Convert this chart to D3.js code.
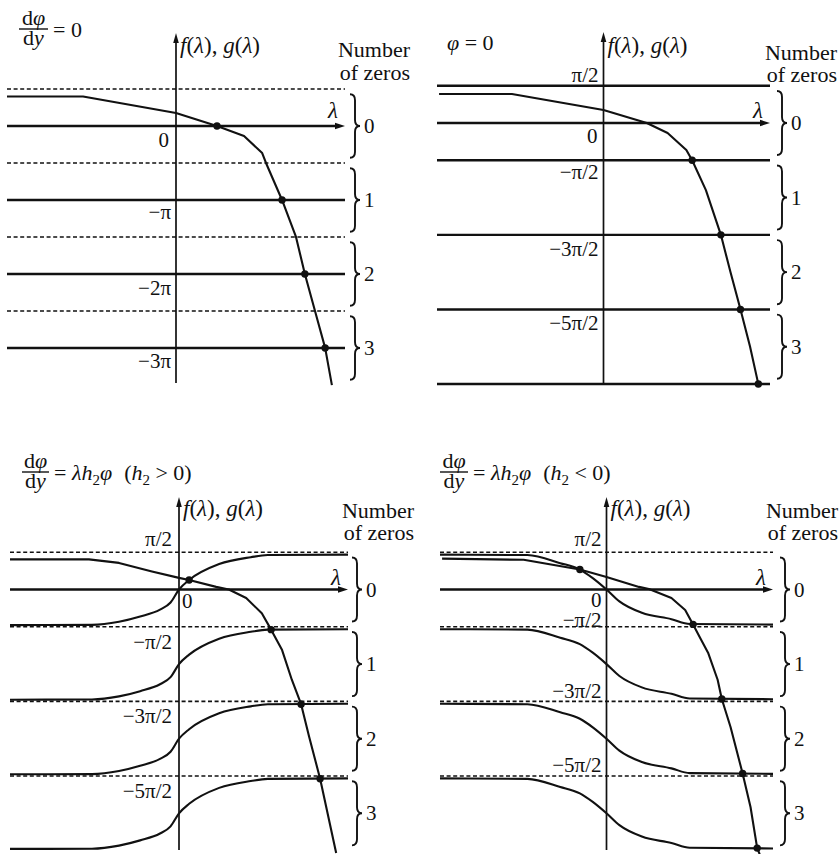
<!DOCTYPE html>
<html><head><meta charset="utf-8">
<script src="https://cdn.jsdelivr.net/npm/d3@7"></script>
<style>
body{margin:0;background:#fff;}
svg{display:block;}
text{font-family:"Liberation Serif","DejaVu Serif",serif;}
</style></head><body>
<svg id="c" width="839" height="854"></svg>
<script>
const PI = Math.PI;

// ---------- data ----------
const lambdaExtent = [-4, 4];
const zeroLabels = ["0", "1", "2", "3"];
const zeroCenters = [0, -PI, -2 * PI, -3 * PI];
const braceHalf = 1.35;

// Panel 1 : dφ/dy = 0
const p1Solid = [0, -PI, -2 * PI, -3 * PI];
const p1Dashed = [PI / 2, -PI / 2, -3 * PI / 2, -5 * PI / 2];
const p1TickValues = [0, -PI, -2 * PI, -3 * PI];
const p1TickLabels = ["0", "−π", "−2π", "−3π"];
const p1F = [[-4.0, 1.25], [-2.2, 1.25], [0, 0.55], [0.97, 0], [1.61, -0.42], [2.04, -1.15], [2.13, -1.57],
  [2.51, -3.14], [2.84, -4.71], [3.05, -6.28], [3.29, -7.85], [3.53, -9.42], [3.69, -11.0]];
const p1Dots = [[0.97, 0], [2.51, -PI], [3.05, -2 * PI], [3.53, -3 * PI]];

// Panel 2 : φ = 0
const p2Solid = [PI / 2, 0, -PI / 2, -3 * PI / 2, -5 * PI / 2, -7 * PI / 2];
const p2Dashed = [];
const p2TickValues = [PI / 2, 0, -PI / 2, -3 * PI / 2, -5 * PI / 2];
const p2TickLabels = ["π/2", "0", "−π/2", "−3π/2", "−5π/2"];
const p2F = [[-3.95, 1.22], [-2.2, 1.22], [0, 0.55], [1.04, 0], [1.54, -0.42], [1.99, -1.14], [2.13, -1.57],
  [2.46, -2.83], [2.82, -4.71], [3.05, -6.28], [3.29, -7.85], [3.52, -9.42], [3.72, -11.0]];
const p2Dots = [[2.13, -PI / 2], [2.82, -3 * PI / 2], [3.29, -5 * PI / 2], [3.72, -7 * PI / 2]];

// Panel 3 : dφ/dy = λh2φ (h2 > 0)
const p3Solid = [0];
const p3Dashed = [PI / 2, -PI / 2, -3 * PI / 2, -5 * PI / 2];
const p3TickValues = [PI / 2, 0, -PI / 2, -3 * PI / 2, -5 * PI / 2];
const p3TickLabels = ["π/2", "0", "−π/2", "−3π/2", "−5π/2"];
const p3F = [[-4.0, 1.27], [-2.13, 1.27], [-1.42, 1.12], [-0.64, 0.76], [0, 0.49], [0.24, 0.40], [0.88, 0.11],
  [1.18, 0], [1.59, -0.36], [1.96, -1.0], [2.18, -1.69], [2.44, -2.55], [2.67, -3.8], [2.89, -4.83],
  [3.08, -6.2], [3.34, -7.97], [3.72, -11.1]];
const p3G = [[-4, -1.5], [-2.06, -1.49], [-1.42, -1.36], [-0.92, -1.14], [-0.45, -0.85], [-0.2, -0.55], [0, 0], [0.24, 0.40],
  [0.95, 1.07], [1.7, 1.36], [2.1, 1.45], [4, 1.47]];
const p3GShifts = [0, -PI, -2 * PI, -3 * PI];
const p3Dots = [[0.24, 0.40], [2.18, -1.69], [2.89, -4.83], [3.34, -7.97]];

// Panel 4 : dφ/dy = λh2φ (h2 < 0)
const p4Solid = [0];
const p4Dashed = [PI / 2, -PI / 2, -3 * PI / 2, -5 * PI / 2];
const p4TickValues = [PI / 2, 0, -PI / 2, -3 * PI / 2, -5 * PI / 2];
const p4TickLabels = ["π/2", "0", "−π/2", "−3π/2", "−5π/2"];
const p4F = [[-3.95, 1.3], [-1.99, 1.25], [-0.64, 0.84], [0, 0.53], [0.78, 0.11], [1.02, 0.02], [1.56, -0.36],
  [1.89, -0.86], [2.08, -1.47], [2.27, -2.11], [2.44, -2.66], [2.67, -3.8], [2.77, -4.61], [2.98, -5.79],
  [3.27, -7.75], [3.46, -9.16], [3.62, -10.89], [3.68, -11.15]];
const p4G = [[-4, 1.47], [-1.9, 1.45], [-1.11, 1.11], [-0.64, 0.84], [-0.33, 0.48], [0, 0], [0.31, -0.5],
  [0.85, -0.98], [1.56, -1.25], [2.0, -1.45], [4, -1.48]];
const p4GShifts = [0, -PI, -2 * PI, -3 * PI];
const p4Dots = [[-0.64, 0.84], [2.08, -1.47], [2.77, -4.61], [3.27, -7.75], [3.62, -10.89]];

// ---------- layout ----------
const panels = [
  { solid: p1Solid, dashed: p1Dashed, tv: p1TickValues, tl: p1TickLabels, f: p1F, g: null, gs: null, dots: p1Dots,
    xr: [7, 345], yd: [0, -3 * PI], yr: [126, 348], yTop: 33, yBot: 383, braceX: 350,
    numX: 410, numY: [57, 80], fgY: 53, lamY: 118,
    ticks: [{a: "end", dx: -7, dy: 21}, {a: "end", dx: -5, dy: 19}, {a: "end", dx: -5, dy: 21}, {a: "end", dx: -5, dy: 20}],
    title: {type: "frac", barX: 19, barW: 29, barY: 29, sign: null} },
  { solid: p2Solid, dashed: p2Dashed, tv: p2TickValues, tl: p2TickLabels, f: p2F, g: null, gs: null, dots: p2Dots,
    xr: [437, 770], yd: [0, -3.5 * PI], yr: [123, 384], yTop: 32, yBot: 383, braceX: 777,
    numX: 837, numY: [60, 82], fgY: 53, lamY: 118,
    ticks: [{a: "end", dx: -5, dy: -4}, {a: "end", dx: -6, dy: 20}, {a: "end", dx: -5, dy: 19}, {a: "end", dx: -5, dy: 21}, {a: "end", dx: -5, dy: 21}],
    title: {type: "plain", x: 447, y: 50} },
  { solid: p3Solid, dashed: p3Dashed, tv: p3TickValues, tl: p3TickLabels, f: p3F, g: p3G, gs: p3GShifts, dots: p3Dots,
    xr: [10, 348], yd: [0, -2.5 * PI], yr: [589.5, 776], yTop: 497, yBot: 850, braceX: 352,
    numX: 414, numY: [518, 540], fgY: 516, lamY: 585,
    ticks: [{a: "end", dx: -7, dy: -6.5}, {a: "start", dx: 3, dy: 18.5}, {a: "end", dx: -7, dy: 22}, {a: "end", dx: -7, dy: 22}, {a: "end", dx: -7, dy: 22}],
    title: {type: "frac", barX: 22, barW: 27, barY: 472, sign: ">"} },
  { solid: p4Solid, dashed: p4Dashed, tv: p4TickValues, tl: p4TickLabels, f: p4F, g: p4G, gs: p4GShifts, dots: p4Dots,
    xr: [440, 773], yd: [0, -2.5 * PI], yr: [589.5, 776], yTop: 497, yBot: 850, braceX: 780,
    numX: 838, numY: [518, 540], fgY: 516, lamY: 585,
    ticks: [{a: "end", dx: -5, dy: -6.5}, {a: "end", dx: -5, dy: 17.5}, {a: "end", dx: -5, dy: 0.5}, {a: "end", dx: -5, dy: -3.5}, {a: "end", dx: -5, dy: -4}],
    title: {type: "frac", barX: 440, barW: 28, barY: 472, sign: "<"} }
];

const svg = d3.select("#c");
const INK = "#111";
const FS = 21;
const SERIF = "Liberation Serif, DejaVu Serif, serif";

function txt(sel, xv, yv, size) {
  return sel.append("text").attr("x", xv).attr("y", yv).attr("font-size", size || FS)
    .attr("font-family", SERIF).attr("fill", INK);
}

// runs: {t, it, sub, dx}
function addRuns(textSel, runs) {
  let inSub = false;
  runs.forEach(r => {
    const t = textSel.append("tspan").text(r.t);
    if (r.it) t.attr("font-style", "italic");
    if (r.sub) { t.attr("font-size", 15); if (!inSub) t.attr("dy", 5); inSub = true; }
    else if (inSub) { t.attr("dy", -5); inSub = false; }
    if (r.dx) t.attr("dx", r.dx);
  });
}

function brace(x, yTopP, yBotP) {
  const w = 10, r = 6, ym = (yTopP + yBotP) / 2;
  const xm = x + w / 2;
  return `M${x},${yTopP} Q${xm},${yTopP} ${xm},${yTopP + r} L${xm},${ym - r} Q${xm},${ym} ${x + w},${ym}` +
         ` Q${xm},${ym} ${xm},${ym + r} L${xm},${yBotP - r} Q${xm},${yBotP} ${x},${yBotP}`;
}

panels.forEach(p => {
  const g = svg.append("g");
  const x = d3.scaleLinear().domain(lambdaExtent).range(p.xr);
  const y = d3.scaleLinear().domain(p.yd).range(p.yr);
  const ax = x(0);

  g.selectAll(null).data(p.dashed).enter().append("line")
    .attr("x1", x(lambdaExtent[0])).attr("x2", x(lambdaExtent[1]))
    .attr("y1", d => y(d)).attr("y2", d => y(d))
    .attr("stroke", INK).attr("stroke-width", 1.6).attr("stroke-dasharray", "4,2.6");

  g.selectAll(null).data(p.solid).enter().append("line")
    .attr("x1", x(lambdaExtent[0])).attr("x2", d => d === 0 ? x(lambdaExtent[1]) - 6 : x(lambdaExtent[1]))
    .attr("y1", d => y(d)).attr("y2", d => y(d))
    .attr("stroke", INK).attr("stroke-width", 2.4);

  const xe = x(lambdaExtent[1]), y0 = y(0);
  g.append("path").attr("d", `M${xe},${y0} L${xe - 10},${y0 - 3.2} L${xe - 10},${y0 + 3.2} Z`).attr("fill", INK);

  g.append("line").attr("x1", ax).attr("x2", ax).attr("y1", p.yTop + 6).attr("y2", p.yBot)
    .attr("stroke", INK).attr("stroke-width", 1.7);
  g.append("path").attr("d", `M${ax},${p.yTop} L${ax - 2.8},${p.yTop + 10} L${ax + 2.8},${p.yTop + 10} Z`).attr("fill", INK);

  const line = d3.line().x(d => x(d[0])).y(d => y(d[1]));

  if (p.g) {
    const lg = d3.line().x(d => x(d[0])).y(d => y(d[1])).curve(d3.curveMonotoneX);
    g.selectAll(null).data(p.gs).enter().append("path")
      .attr("d", s => lg(p.g.map(q => [q[0], q[1] + s])))
      .attr("fill", "none").attr("stroke", INK).attr("stroke-width", 2.1);
  }

  g.append("path").attr("d", line(p.f)).attr("fill", "none").attr("stroke", INK).attr("stroke-width", 2.1)
    .attr("stroke-linejoin", "round");

  g.selectAll(null).data(p.dots).enter().append("circle")
    .attr("cx", d => x(d[0])).attr("cy", d => y(d[1])).attr("r", 3.7).attr("fill", INK);

  p.tv.forEach((v, i) => {
    const o = p.ticks[i];
    txt(g, ax + o.dx, y(v) + o.dy).attr("text-anchor", o.a).text(p.tl[i]);
  });

  zeroCenters.forEach((c, i) => {
    g.append("path").attr("d", brace(p.braceX, y(c + braceHalf), y(c - braceHalf)))
      .attr("fill", "none").attr("stroke", INK).attr("stroke-width", 1.9);
    txt(g, p.braceX + 14, y(c) + 7).text(zeroLabels[i]);
  });

  txt(g, p.numX, p.numY[0], 22).attr("text-anchor", "end").text("Number");
  txt(g, p.numX, p.numY[1], 22).attr("text-anchor", "end").text("of zeros");

  const fg = txt(g, ax + 4, p.fgY, 23);
  addRuns(fg, [{t: "f", it: true}, {t: "("}, {t: "λ", it: true}, {t: "), "}, {t: "g", it: true}, {t: "("}, {t: "λ", it: true}, {t: ")"}]);

  txt(g, xe - 17, p.lamY, 23).attr("font-style", "italic").text("λ");

  const tt = p.title;
  if (tt.type === "plain") {
    addRuns(txt(g, tt.x, tt.y, 22), [{t: "φ", it: true}, {t: " = 0"}]);
  } else {
    const cx = tt.barX + tt.barW / 2;
    g.append("line").attr("x1", tt.barX).attr("x2", tt.barX + tt.barW).attr("y1", tt.barY).attr("y2", tt.barY)
      .attr("stroke", INK).attr("stroke-width", 1.4);
    addRuns(txt(g, cx, tt.barY - 4, 22).attr("text-anchor", "middle"), [{t: "d"}, {t: "φ", it: true}]);
    addRuns(txt(g, cx, tt.barY + 16, 22).attr("text-anchor", "middle"), [{t: "d"}, {t: "y", it: true}]);
    const r = txt(g, tt.barX + tt.barW + 5, tt.barY + 8, 22);
    if (!tt.sign) addRuns(r, [{t: "= 0"}]);
    else addRuns(r, [{t: "= "}, {t: "λh", it: true}, {t: "2", sub: true}, {t: "φ", it: true},
                     {t: "(", dx: 12}, {t: "h", it: true}, {t: "2", sub: true}, {t: " " + tt.sign + " 0)"}]);
  }
});
</script>
</body></html>
